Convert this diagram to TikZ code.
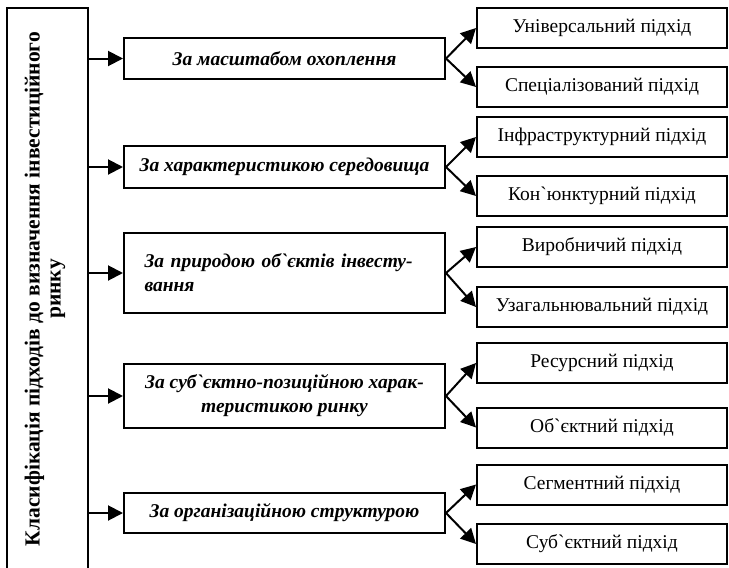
\documentclass[tikz,border=0pt]{standalone}
\usepackage{fontspec}
\newfontfamily\uaserif{Liberation Serif}
\usetikzlibrary{arrows.meta}
\begin{document}
\begin{tikzpicture}[x=1pt,y=-1pt,
  framed/.style={draw, line width=2pt, inner sep=0pt},
  rootbox/.style={framed, minimum width=81pt, minimum height=568pt, anchor=north west},
  roottext/.style={rotate=90, align=center, inner sep=0pt,
    font=\uaserif\bfseries\fontsize{21.5}{21}\selectfont},
  catbox/.style={framed, minimum width=321pt, align=center,
    font=\uaserif\bfseries\itshape\fontsize{19.5}{24}\selectfont},
  leafbox/.style={framed, minimum width=250pt, minimum height=40pt,
    font=\uaserif\fontsize{19.5}{22}\selectfont},
  link/.style={line width=2pt, -{Triangle[length=15pt,width=15pt]}}
]
\useasboundingbox (0,0) rectangle (729,568);

% root classification box (runs off the lower edge)
\node[rootbox] (root) at (6,7) {};
\node[roottext] (roottitle) at (45,289)
  {Класифікація підходів до визначення інвестиційного\\ринку};

% classification criteria
\node[catbox, minimum height=41pt] (m1) at (284.5,58.5) {За масштабом охоплення};
\node[catbox, minimum height=42pt] (m2) at (284.5,167) {За характеристикою середовища};
\node[catbox, minimum height=80pt, text width=280pt, align=left] (m3) at (284.5,273)
  {За природою об`єктів інвесту-\\вання};
\node[catbox, minimum height=64pt] (m4) at (284.5,396)
  {За суб`єктно-позиційною харак-\\теристикою ринку};
\node[catbox, minimum height=40pt] (m5) at (284.5,513) {За організаційною структурою};

% approaches
\node[leafbox] (r1)  at (602,28)    {Універсальний підхід};
\node[leafbox] (r2)  at (602,87)    {Спеціалізований підхід};
\node[leafbox] (r3)  at (602,137)   {Інфраструктурний підхід};
\node[leafbox] (r4)  at (602,196)   {Кон`юнктурний підхід};
\node[leafbox] (r5)  at (602,247)   {Виробничий підхід};
\node[leafbox] (r6)  at (602,307)   {Узагальнювальний підхід};
\node[leafbox] (r7)  at (602,363)   {Ресурсний підхід};
\node[leafbox] (r8)  at (602,427.5) {Об`єктний підхід};
\node[leafbox] (r9)  at (602,484.5) {Сегментний підхід};
\node[leafbox] (r10) at (602,544)   {Суб`єктний підхід};

% root to criteria
\foreach \m in {m1,m2,m3,m4,m5}
  \draw[link] (root.east |- \m) -- (\m.west);

% criteria to approaches
\draw[link] (m1.east) -- (r1.west);
\draw[link] (m1.east) -- (r2.west);
\draw[link] (m2.east) -- (r3.west);
\draw[link] (m2.east) -- (r4.west);
\draw[link] (m3.east) -- (r5.west);
\draw[link] (m3.east) -- (r6.west);
\draw[link] (m4.east) -- (r7.west);
\draw[link] (m4.east) -- (r8.west);
\draw[link] (m5.east) -- (r9.west);
\draw[link] (m5.east) -- (r10.west);
\end{tikzpicture}
\end{document}
